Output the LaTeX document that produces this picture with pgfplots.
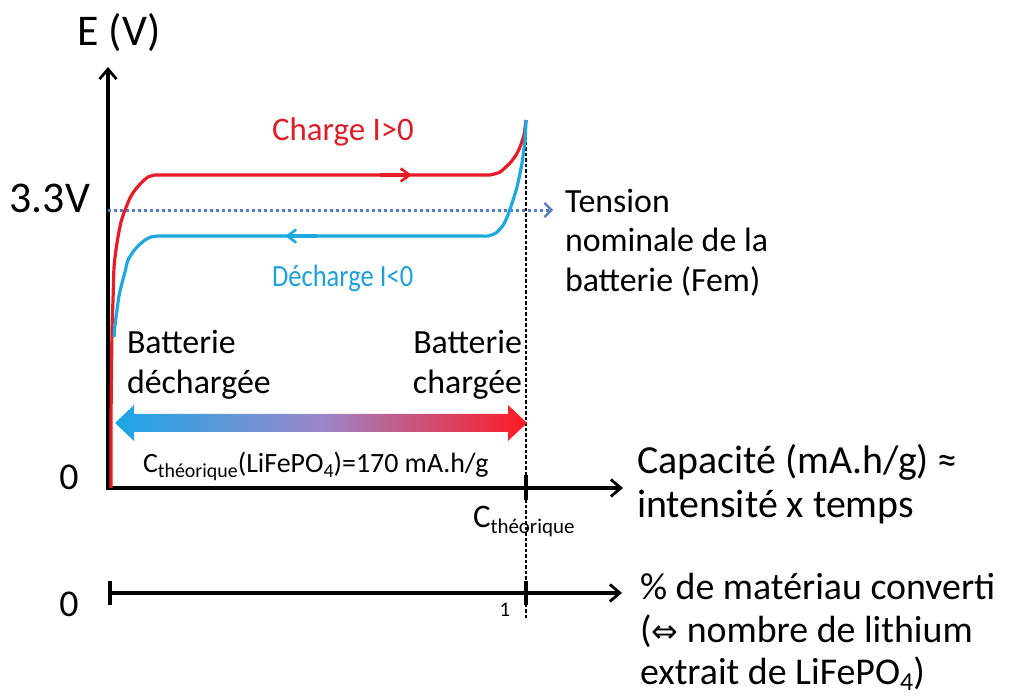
\documentclass[border=0pt]{standalone}
\usepackage{pgfplots}
\pgfplotsset{compat=1.18}
\usepackage{fontspec}
\setmainfont{Carlito}
\newfontfamily\djv{DejaVu Sans}
\usetikzlibrary{arrows.meta}
\definecolor{cred}{RGB}{232,28,36}
\definecolor{cblue}{RGB}{30,168,224}
\definecolor{tred}{RGB}{220,30,38}
\definecolor{tblue}{RGB}{30,160,218}
\definecolor{dotblue}{RGB}{84,124,192}
\definecolor{gblue}{RGB}{26,167,232}
\definecolor{gmid}{RGB}{155,135,200}
\definecolor{gred}{RGB}{255,25,35}
\newcommand{\fsz}[1]{\fontsize{#1}{#1}\selectfont}
\tikzset{axarrow/.style={line width=3.5bp, -{Straight Barb[length=10bp,width=17bp,line width=2.8bp]}}}
\begin{document}
\begin{tikzpicture}
\path[use as bounding box] (0,0) rectangle (1011bp,697bp);
\begin{axis}[
  at={(108bp,209bp)}, anchor=south west,
  scale only axis, width=515bp, height=421bp,
  xmin=0, xmax=1.232, ymin=0, ymax=4.998,
  hide axis,
  clip=false,
]
% main axes
\draw[axarrow] (axis cs:0,0) -- (axis cs:0,4.998);
\draw[axarrow] (axis cs:-0.004,0) -- (axis cs:1.232,0);
% reference 3.3 V (dotted)
\addplot[dotblue, line width=3bp, dash pattern=on 3bp off 3bp, -{Straight Barb[length=7bp,width=14bp,line width=2.2bp]}] coordinates {(0,3.3) (1.0646,3.3)};
% vertical dashed line at C theorique
\addplot[black, line width=1.4bp, dash pattern=on 3.5bp off 2bp] coordinates {(1,4.37) (1,-1.567)};
% charge curve
\addplot[cred, line width=3.2bp, smooth, tension=0.35] coordinates {
(0.0072,0) (0.0072,0.807) (0.0096,1.876) (0.012,2.232) (0.0144,2.623) (0.0191,2.825)
(0.0239,2.980) (0.0311,3.158) (0.0407,3.300) (0.0526,3.443) (0.0646,3.537) (0.0813,3.632)
(0.0957,3.692) (0.1124,3.716) (0.13,3.716) (0.16,3.716) (0.25,3.716) (0.5,3.716)
(0.75,3.716) (0.85,3.716) (0.88,3.716) (0.90,3.716) (0.9139,3.716)
(0.9378,3.751) (0.9617,3.858) (0.9761,3.953)
(0.9856,4.048) (0.9952,4.190) (1.0,4.369)};
% discharge curve
\addplot[cblue, line width=3.2bp, smooth, tension=0.35] coordinates {
(0.0144,1.793) (0.0167,1.935) (0.0215,2.113) (0.0263,2.279) (0.0335,2.434) (0.0407,2.564)
(0.0478,2.707) (0.0598,2.802) (0.0718,2.873) (0.0885,2.944) (0.1029,2.980) (0.1196,2.991)
(0.135,2.991) (0.16,2.991) (0.25,2.991) (0.5,2.991) (0.75,2.991) (0.85,2.991)
(0.875,2.991) (0.895,2.991) (0.9091,2.991)
(0.9282,3.027) (0.9450,3.118) (0.9560,3.230) (0.9665,3.380) (0.9785,3.573) (0.9904,3.858)
(0.9976,4.131) (1.0,4.369)};
% direction arrows
\addplot[cred, line width=3.2bp, -{Straight Barb[length=9bp,width=13bp,line width=2.6bp]}] coordinates {(0.65,3.716) (0.727,3.716)};
\addplot[cblue, line width=3.2bp, -{Straight Barb[length=9bp,width=13bp,line width=2.6bp]}] coordinates {(0.50,2.991) (0.4234,2.991)};
% tick at x=1
\draw[line width=3.5bp] (axis cs:1,0.154) -- (axis cs:1,-0.142);
% second axis
\draw[axarrow] (axis cs:0.005,-1.246) -- (axis cs:1.2297,-1.246);
\draw[line width=3.5bp] (axis cs:0.005,-1.104) -- (axis cs:0.005,-1.389);
\draw[line width=3.5bp] (axis cs:1,-1.104) -- (axis cs:1,-1.389);
\end{axis}
\begin{scope}[shift={(0,697bp)}, x=1bp, y=-1bp]
\shade[left color=gblue, right color=gred, middle color=gmid]
  (115,423) -- (134,405) -- (134,414) -- (508,414) -- (508,405) -- (527,423)
  -- (508,441) -- (508,432) -- (134,432) -- (134,441) -- cycle;
\tikzset{every node/.style={inner sep=0pt, outer sep=0pt}}
\node[anchor=base] at (119,46) {\fsz{44}E (V)};
\node[anchor=base east] at (90,213) {\fsz{44}3.3V};
\node[anchor=base] at (69,490) {\fsz{38}0};
\node[anchor=base] at (69,617) {\fsz{38}0};
\node[anchor=base west, text=tred] at (272,141) {\fsz{33}Charge I>0};
\node[anchor=base west, text=tblue] at (272,287) {\fsz{31}\scalebox{0.86}[1]{Décharge I<0}};
\node[anchor=base west] at (127,354) {\fsz{34}Batterie};
\node[anchor=base west] at (127,394) {\fsz{34}déchargée};
\node[anchor=base east] at (522,354) {\fsz{34}Batterie};
\node[anchor=base east] at (522,394) {\fsz{34}chargée};
\node[anchor=base west] at (143,473) {\fsz{28}C\raisebox{-4.5bp}{\fsz{20}théorique}(LiFePO\raisebox{-4.5bp}{\fsz{20}4})=170 mA.h/g};
\node[anchor=base west] at (473,528) {\fsz{33}C\raisebox{-6bp}{\fsz{21}théorique}};
\node[anchor=base] at (505,617) {\fsz{21}1};
\node[anchor=base west] at (565,213) {\fsz{34}Tension};
\node[anchor=base west] at (565,252) {\fsz{34}nominale de la};
\node[anchor=base west] at (565,292) {\fsz{34}batterie (Fem)};
\node[anchor=base west] at (637,474) {\fsz{40}Capacité (mA.h/g) ≈};
\node[anchor=base west] at (637,518) {\fsz{40}intensité x temps};
\node[anchor=base west] at (640,600) {\fsz{38}\% de matériau converti};
\node[anchor=base west] at (640,643) {\fsz{38}({\djv\fsz{32}⇔} nombre de lithium};
\node[anchor=base west] at (640,685) {\fsz{38}extrait de LiFePO\raisebox{-6bp}{\fsz{26}4})};
\end{scope}
\end{tikzpicture}
\end{document}
